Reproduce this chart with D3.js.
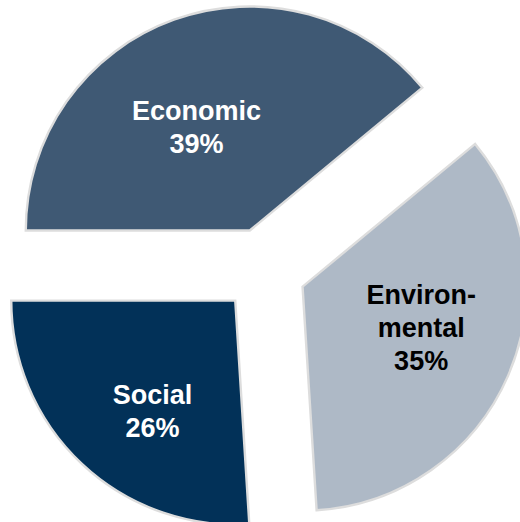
<!DOCTYPE html>
<html>
<head>
<meta charset="utf-8">
<script src="https://cdn.jsdelivr.net/npm/d3@7"></script>
<style>
  html, body { margin: 0; padding: 0; background: #ffffff; }
  svg { display: block; }
</style>
</head>
<body>
<script>
// Share of sustainability dimensions
const categories = ["Economic", "Environmental", "Social"];
const values = [39, 35, 26];
const labelLines = [["Economic"], ["Environ-", "mental"], ["Social"]];

const width = 520, height = 522;
const cx = 264, cy = 270;
const radius = 224;
const explode = 42;

const fills = { Economic: "#3f5974", Environmental: "#aeb9c6", Social: "#023158" };
const textFills = { Economic: "#ffffff", Environmental: "#000000", Social: "#ffffff" };
// label placement: rotation from the slice bisector (deg) and distance from the slice apex
const labelPlace = { Economic: [-7, 118], Environmental: [-5, 125], Social: [-6, 137] };

const data = categories.map((c, i) => ({ category: c, value: values[i], lines: labelLines[i] }));

const pie = d3.pie()
  .value(d => d.value)
  .sort(null)
  .startAngle(-Math.PI / 2)
  .endAngle(3 * Math.PI / 2);

const arc = d3.arc().innerRadius(0).outerRadius(radius);

const svg = d3.select("body").append("svg")
  .attr("width", width)
  .attr("height", height);

const g = svg.append("g").attr("transform", `translate(${cx},${cy})`);

const slices = g.selectAll("g.slice")
  .data(pie(data))
  .join("g")
  .attr("class", "slice")
  .attr("transform", d => {
    const mid = (d.startAngle + d.endAngle) / 2;
    return `translate(${explode * Math.sin(mid)},${-explode * Math.cos(mid)})`;
  });

slices.append("path")
  .attr("d", arc)
  .attr("fill", d => fills[d.data.category])
  .attr("stroke", "#dddddd")
  .attr("stroke-width", 2.4)
  .attr("stroke-linejoin", "miter");

const lineH = 33;
slices.each(function (d) {
  const [rot, dist] = labelPlace[d.data.category];
  const a = (d.startAngle + d.endAngle) / 2 + rot * Math.PI / 180;
  const x = dist * Math.sin(a), y = -dist * Math.cos(a);
  const lines = d.data.lines.concat([d3.format(".0f")(d.data.value) + "%"]);
  const t = d3.select(this).append("text")
    .attr("text-anchor", "middle")
    .attr("font-family", "'Liberation Sans', Arial, sans-serif")
    .attr("font-weight", "bold")
    .attr("font-size", 27)
    .attr("fill", textFills[d.data.category]);
  const top = y - (lines.length - 1) * lineH / 2 + 11;
  lines.forEach((s, i) => {
    t.append("tspan").attr("x", x).attr("y", top + i * lineH).text(s);
  });
});
</script>
</body>
</html>
